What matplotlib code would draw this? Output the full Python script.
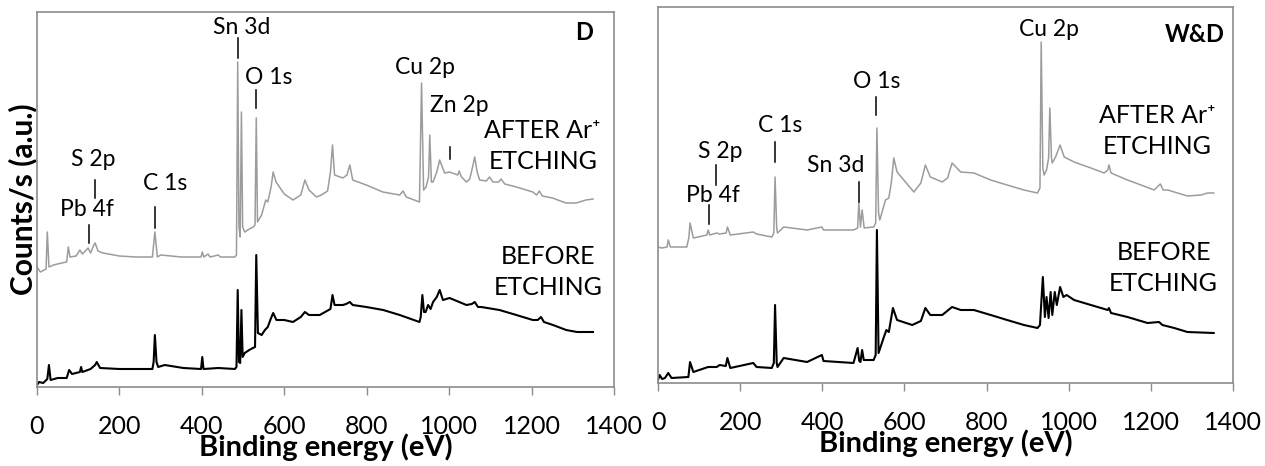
import matplotlib
matplotlib.use("Agg")
import matplotlib.pyplot as plt

plt.rcParams['font.family'] = ['Lato', 'DejaVu Sans']

# ---- data: XPS survey spectra (arbitrary counts) ----
# panel D, after Ar+ etching
d_after_x = [0, 8, 22, 25, 29, 40, 60, 72, 76, 80, 95, 104, 110, 124, 130, 138, 141, 148, 160,
             200, 240, 280, 286, 292, 300, 350, 398, 401, 405, 415, 420, 440, 445, 480, 484,
             487, 490, 493, 496, 499, 504, 515, 525, 529, 532, 535, 545, 555, 560, 568, 573,
             580, 600, 621, 640, 650, 660, 678, 690, 705, 712, 717, 722, 742, 752, 759, 766,
             799, 839, 880, 888, 896, 928, 933, 938, 944, 950, 953, 957, 961, 970, 977, 989,
             1001, 1021, 1024, 1030, 1042, 1050, 1058, 1062, 1068, 1074, 1090, 1098, 1106,
             1120, 1126, 1135, 1163, 1203, 1212, 1219, 1226, 1251, 1270, 1284, 1308, 1332, 1349]
d_after_y = [120, 115, 118, 155, 120, 122, 124, 125, 140, 130, 131, 137, 133, 139, 134, 142, 144, 136, 134,
             131, 130, 130, 155, 130, 132, 130, 130, 135, 130, 133, 130, 132, 130, 130, 132,
             325, 160, 150, 275, 160, 155, 158, 160, 162, 269, 165, 172, 187, 185, 200, 215,
             205, 193, 187, 192, 207, 197, 190, 192, 196, 215, 242, 212, 209, 212, 222, 207,
             202, 195, 192, 196, 190, 185, 304, 197, 200, 210, 252, 205, 205, 215, 227, 214,
             215, 212, 216, 210, 205, 208, 222, 230, 215, 207, 206, 210, 205,
             205, 208, 203, 200, 195, 192, 196, 191, 189, 186, 184, 184, 187, 188]

# panel D, before etching
d_before_x = [0, 5, 15, 25, 29, 33, 50, 72, 78, 85, 104, 107, 110, 130, 141, 145, 153, 200, 250,
              280, 283, 286, 290, 294, 310, 355, 398, 401, 404, 440, 480, 484, 487, 490, 493,
              496, 499, 504, 515, 524, 529, 532, 536, 545, 553, 560, 567, 573, 581, 600, 621,
              640, 650, 660, 678, 686, 712, 717, 722, 742, 750, 759, 766, 799, 840, 880, 928,
              931, 935, 939, 943, 949, 955, 961, 970, 977, 985, 1001, 1042, 1055, 1062, 1070,
              1078, 1122, 1163, 1203, 1215, 1223, 1230, 1252, 1284, 1310, 1349]
d_before_y = [2, 5, 4, 8, 22, 7, 9, 9, 17, 13, 15, 20, 15, 18, 22, 25, 19, 18, 18,
              18, 25, 52, 25, 20, 22, 19, 18, 30, 18, 19, 18, 20, 97, 25, 24,
              77, 30, 34, 37, 39, 40, 132, 54, 52, 57, 60, 68, 74, 67, 67, 65,
              70, 75, 72, 72, 72, 78, 92, 82, 82, 83, 85, 82, 80, 77, 72, 65,
              70, 92, 75, 75, 82, 78, 85, 90, 97, 87, 89, 82, 83, 85, 80,
              80, 77, 72, 67, 67, 70, 65, 62, 57, 55, 55]

# panel W&D, after Ar+ etching
wd_after_x = [0, 9, 22, 25, 30, 70, 75, 78, 86, 119, 122, 126, 143, 150, 166, 169, 176, 232, 240,
              277, 282, 285, 289, 291, 306, 363, 399, 403, 476, 486, 489, 493, 497, 502, 525,
              530, 533, 537, 540, 554, 562, 568, 574, 582, 623, 640, 651, 663, 692, 705, 716,
              737, 769, 810, 850, 891, 924, 930, 933, 937, 940, 946, 951, 954, 958, 960, 968,
              979, 989, 1013, 1054, 1086, 1095, 1098, 1103, 1143, 1176, 1208, 1223, 1230, 1241,
              1289, 1322, 1338, 1353]
wd_after_y = [136, 135, 136, 143, 136, 136, 145, 160, 145, 148, 153, 148, 150, 149, 150, 156, 148, 151, 149,
              146, 150, 206, 155, 150, 156, 153, 156, 153, 153, 155, 180, 156, 173, 155, 156,
              160, 255, 170, 163, 183, 185, 200, 225, 211, 191, 200, 218, 206, 201, 205, 220,
              211, 210, 203, 198, 193, 190, 195, 341, 215, 208, 213, 225, 275, 225, 220, 226,
              238, 226, 221, 215, 210, 213, 218, 210, 203, 198, 193, 199, 193, 193,
              187, 188, 190, 190]

# panel W&D, before etching
wd_before_x = [0, 4, 10, 17, 25, 33, 74, 78, 86, 122, 143, 150, 165, 169, 176, 232, 240, 277, 282,
               285, 289, 291, 306, 363, 399, 403, 476, 486, 490, 493, 497, 501, 525, 530, 533,
               537, 550, 556, 562, 572, 582, 619, 640, 651, 663, 692, 716, 737, 769, 810, 850,
               891, 924, 930, 937, 942, 946, 951, 956, 960, 966, 971, 979, 987, 995, 1013, 1054,
               1095, 1098, 1103, 1143, 1192, 1220, 1228, 1257, 1289, 1353]
wd_before_y = [3, 8, 4, 5, 10, 5, 6, 21, 11, 16, 16, 18, 17, 25, 15, 20, 16, 15, 20,
               78, 20, 16, 25, 21, 28, 22, 20, 35, 22, 21, 33, 23, 23, 28, 153,
               30, 46, 53, 51, 75, 63, 58, 62, 75, 68, 68, 76, 73, 73, 68, 63,
               58, 55, 58, 106, 66, 86, 65, 91, 68, 91, 78, 96, 86, 88, 83, 78,
               73, 75, 70, 66, 60, 61, 58, 55, 51, 50]

x_ticks = [0, 200, 400, 600, 800, 1000, 1200, 1400]

# peak labels: (text, text x, text y, marker x, marker y0, marker y1)
d_labels = [("Sn 3d", 496, 360, 487, 329, 349),
            ("O 1s", 563, 310, 532, 279, 297),
            ("S 2p", 136, 228, 141, 189, 207),
            ("Pb 4f", 122, 178, 126, 144, 162),
            ("C 1s", 312, 204, 286, 159, 180),
            ("Cu 2p", 941, 320, None, None, None),
            ("Zn 2p", 1025, 282, 1003, 228, 240)]
wd_labels = [("Cu 2p", 952, 353, None, None, None),
             ("O 1s", 532, 301, 530, 268, 286),
             ("C 1s", 298, 257, 285, 221, 241),
             ("Sn 3d", 432, 217, 490, 181, 201),
             ("S 2p", 151, 231, 141, 198, 218),
             ("Pb 4f", 133, 188, 123, 159, 178)]

GREY = '#9c9c9c'
SPINE = '#8c8c8c'


def draw_panel(ax, after_x, after_y, before_x, before_y, labels, tag, tag_pos,
               after_pos, before_pos, ytop):
    ax.plot(after_x, after_y, color=GREY, lw=1.1)
    ax.plot(before_x, before_y, color='black', lw=1.5)
    for name, tx, ty, mx, my0, my1 in labels:
        ax.text(tx, ty, name, ha='center', va='center', fontsize=16.5)
        if mx is not None:
            ax.plot([mx, mx], [my0, my1], color='black', lw=1.1)
    ax.text(after_pos[0], after_pos[1], "AFTER Ar\u207a\nETCHING", ha='center', va='center',
            fontsize=18, linespacing=1.4)
    ax.text(before_pos[0], before_pos[1], "BEFORE\nETCHING", ha='center', va='center',
            fontsize=18, linespacing=1.4)
    ax.text(tag_pos[0], tag_pos[1], tag, ha='center', va='center', fontsize=17,
            fontweight='bold')
    ax.set_xlim(0, 1400)
    ax.set_ylim(0, ytop)
    ax.set_xticks(x_ticks)
    ax.set_yticks([])
    ax.tick_params(axis='x', direction='out', length=6, width=1, color=SPINE,
                   labelsize=18, pad=14)
    for sp in ax.spines.values():
        sp.set_color(SPINE)
        sp.set_linewidth(1.2)
    ax.set_xlabel("Binding energy (eV)", fontsize=21, fontweight='bold', labelpad=-3)


fig = plt.figure(figsize=(12.65, 4.66), dpi=100)
ax1 = fig.add_axes([37 / 1265, 79 / 466, 577 / 1265, 375 / 466])
ax2 = fig.add_axes([658 / 1265, 83 / 466, 575 / 1265, 376 / 466])

draw_panel(ax1, d_after_x, d_after_y, d_before_x, d_before_y, d_labels, "D",
           (1328, 354), (1227, 241), (1240, 115), 375)
draw_panel(ax2, wd_after_x, wd_after_y, wd_before_x, wd_before_y, wd_labels, "W&D",
           (1306, 348), (1216, 252), (1231, 115), 376)

ax1.set_ylabel("Counts/s (a.u.)", fontsize=21.5, fontweight='bold', labelpad=0)

fig.savefig("out.png", dpi=100)
